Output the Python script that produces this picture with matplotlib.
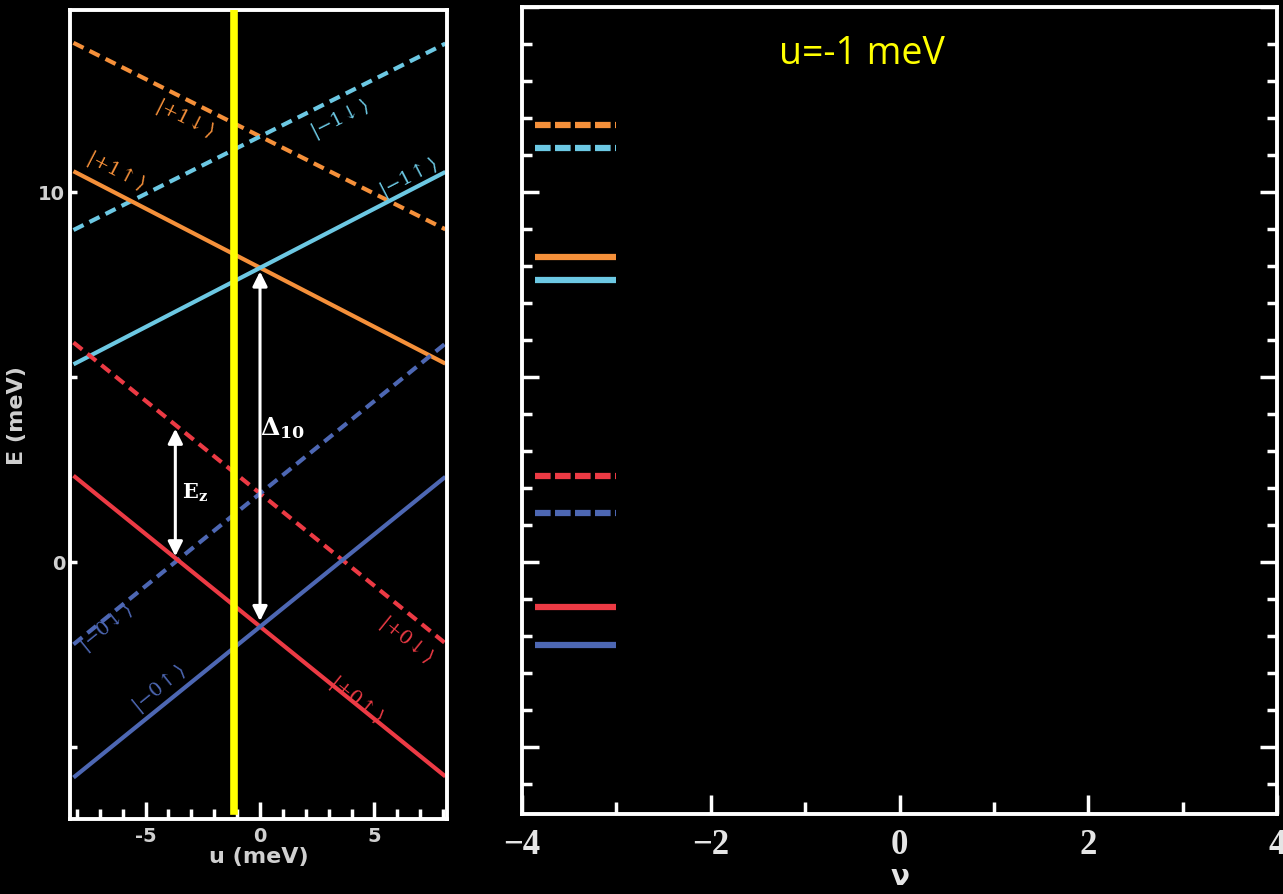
import numpy as np
import matplotlib
matplotlib.use("Agg")
from matplotlib import pyplot as plt
from matplotlib.ticker import MultipleLocator, FixedLocator, FuncFormatter

plt.rcParams['mathtext.fontset'] = 'dejavuserif'

# left panel: energy levels vs u (meV), end points of each line
u_ends = [-8.15, 8.1]
state_labels = [r'$|{+}1\!\downarrow\rangle$', r'$|{-}1\!\downarrow\rangle$',
                r'$|{+}1\!\uparrow\rangle$', r'$|{-}1\!\uparrow\rangle$',
                r'$|{+}0\!\downarrow\rangle$', r'$|{-}0\!\downarrow\rangle$',
                r'$|{+}0\!\uparrow\rangle$', r'$|{-}0\!\uparrow\rangle$']
e_start = [14.03, 8.97, 10.56, 5.34, 5.93, -2.23, 2.33, -5.83]
e_end = [8.99, 14.01, 5.36, 10.54, -2.20, 5.90, -5.80, 2.30]
line_colors = ['#f5903a', '#6cc8e3', '#f5903a', '#6cc8e3',
               '#ec3a44', '#4d67b3', '#ec3a44', '#4d67b3']
dashed = [True, True, False, False, True, True, False, False]

# label positions (u, E), same order as state_labels
label_u = [-3.3, 3.5, -6.3, 6.5, 6.4, -6.7, 4.2, -4.4]
label_e = [12.0, 12.0, 10.6, 10.4, -2.1, -1.75, -3.7, -3.4]

u_cut = -1.15          # yellow cut
ez_u, ez_lo, ez_hi = -3.7, 0.15, 3.6
d10_u, d10_lo, d10_hi = 0.0, -1.6, 7.85

# right panel: levels at u = -1 meV
nu_range = [-3.86, -3.0]
levels = [11.81, 11.19, 8.24, 7.62, 2.32, 1.32, -1.22, -2.24]

fig = plt.figure(figsize=(12.83, 8.95), dpi=100, facecolor='black')
ax1 = fig.add_axes([0.0546, 0.0838, 0.2938, 0.904])
ax2 = fig.add_axes([0.4069, 0.0894, 0.5884, 0.9017])

for ax in (ax1, ax2):
    ax.set_facecolor('black')
    for s in ax.spines.values():
        s.set_color('white')
        s.set_linewidth(2.8)

# ---- left panel
for i in range(len(e_start)):
    ls = (0, (2.7, 1.6)) if dashed[i] else '-'
    ax1.plot(u_ends, [e_start[i], e_end[i]], color=line_colors[i], lw=3.0,
             linestyle=ls, solid_capstyle='butt')

for i in range(len(state_labels)):
    slope = (e_end[i] - e_start[i]) / (u_ends[1] - u_ends[0])
    ang = np.degrees(np.arctan(slope))
    ax1.text(label_u[i], label_e[i], state_labels[i], color=line_colors[i],
             fontsize=14, ha='center', va='center', rotation=ang,
             transform_rotates_text=True, rotation_mode='anchor')

ax1.axvline(u_cut, ymin=0.01, ymax=1.0, color='#ffff00', lw=5.5, zorder=5)

arr = dict(arrowstyle='<|-|>', color='white', lw=2.2, mutation_scale=22,
           shrinkA=0, shrinkB=0)
ax1.annotate('', xy=(ez_u, ez_hi), xytext=(ez_u, ez_lo), arrowprops=arr)
ax1.annotate('', xy=(d10_u, d10_hi), xytext=(d10_u, d10_lo), arrowprops=arr)
ax1.text(-2.85, 1.9, r'$\mathbf{E_z}$', color='white', fontsize=15,
         ha='center', va='center')
ax1.text(1.0, 3.65, r'$\mathbf{\Delta_{10}}$', color='white', fontsize=18,
         ha='center', va='center')

ax1.set_xlim(-8.3, 8.17)
ax1.set_ylim(-6.95, 14.92)
ax1.xaxis.set_major_locator(FixedLocator([-5, 0, 5]))
ax1.xaxis.set_minor_locator(MultipleLocator(1))
ax1.yaxis.set_major_locator(FixedLocator([0, 10]))
ax1.yaxis.set_minor_locator(FixedLocator([-5, 5]))
ax1.xaxis.set_major_formatter(FuncFormatter(lambda v, p: '%d' % v))
ax1.tick_params(axis='x', which='major', direction='in', length=12, width=2.5,
                color='white', labelcolor='#d0d0d0', labelsize=14, pad=5,
                top=False)
ax1.tick_params(axis='x', which='minor', direction='in', length=7, width=2.5,
                color='white', top=False)
ax1.tick_params(axis='y', which='both', direction='in', length=5, width=2.5,
                color='white', labelcolor='#d0d0d0', labelsize=14, right=False)
for t in ax1.get_xticklabels() + ax1.get_yticklabels():
    t.set_fontweight('bold')
ax1.set_xlabel('u (meV)', color='#d0d0d0', fontsize=16, labelpad=1,
               fontweight='bold')
ax1.set_ylabel('E (meV)', color='#d0d0d0', fontsize=16, labelpad=8,
               fontweight='bold')

# ---- right panel
for i in range(len(levels)):
    ls = (0, (2.5, 0.7)) if dashed[i] else '-'
    ax2.plot(nu_range, [levels[i], levels[i]], color=line_colors[i], lw=4.5,
             linestyle=ls, solid_capstyle='butt')

ax2.set_xlim(-4, 4)
ax2.set_ylim(-6.81, 15.0)
ax2.xaxis.set_major_locator(MultipleLocator(2))
ax2.xaxis.set_minor_locator(MultipleLocator(1))
ax2.yaxis.set_major_locator(MultipleLocator(5))
ax2.yaxis.set_minor_locator(MultipleLocator(1))
ax2.tick_params(axis='x', which='major', direction='in', length=14, width=2.5,
                color='white', labelcolor='#e5e5e5', labelsize=25, pad=10,
                top=False)
ax2.tick_params(axis='x', which='minor', direction='in', length=9, width=2.5,
                color='white', top=False)
ax2.tick_params(axis='y', which='major', direction='in', length=12, width=2.5,
                color='white', left=True, right=True, labelleft=False)
ax2.tick_params(axis='y', which='minor', direction='in', length=7, width=2.5,
                color='white', left=True, right=True, labelleft=False)
for t in ax2.get_xticklabels():
    t.set_family('Liberation Serif')
    t.set_fontweight('bold')
ax2.set_xlabel('ν', color='#e5e5e5', fontsize=20, labelpad=1,
               fontweight='bold', family='DejaVu Sans')
ax2.text(0.45, 0.943, 'u=-1 meV', transform=ax2.transAxes, color='#ffff00',
         fontsize=27, family='Open Sans', ha='center', va='center')

fig.savefig('out.png', dpi=100, facecolor='black')
